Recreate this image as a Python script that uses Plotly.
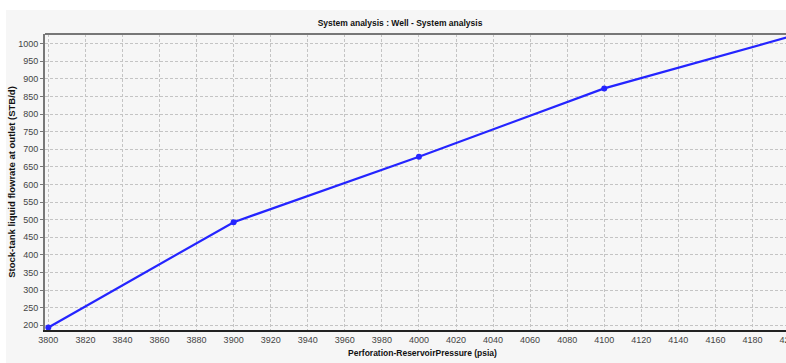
import plotly.graph_objects as go

pressure = [3800, 3900, 4000, 4100, 4200]
flowrate = [194, 493, 679, 873, 1020]

title_text = "System analysis : Well - System analysis"
x_title = "Perforation-ReservoirPressure (psia)"
y_title = "Stock-tank liquid flowrate at outlet (STB/d)"

x_ticks = list(range(3800, 4201, 20))
y_ticks = list(range(200, 1001, 50))

FONT = "Liberation Sans Narrow, Arial Narrow, sans-serif"

fig = go.Figure()
fig.add_trace(go.Scatter(
    x=pressure, y=flowrate, mode="lines+markers",
    line=dict(color="#2424ff", width=2.2),
    marker=dict(color="#2424ff", size=6),
    cliponaxis=False,
))

fig.update_layout(
    width=800, height=363,
    margin=dict(l=45, r=0, t=34, b=33),
    paper_bgcolor="white",
    plot_bgcolor="#fcfcfc",
    showlegend=False,
    title=dict(text="<b>" + title_text + "</b>", x=0.5, xanchor="center",
               y=1 - 23 / 363, yanchor="middle",
               font=dict(family=FONT, size=8.5, color="#111")),
    font=dict(family=FONT, size=9, color="#333"),
    shapes=[
        dict(type="rect", xref="paper", yref="paper", layer="below",
             x0=-39 / 755, x1=1.0, y0=-33 / 296, y1=320 / 296,
             fillcolor="#f6f6f6", line=dict(width=0)),
        dict(type="line", xref="paper", yref="paper", x0=0, x1=1, y0=1, y1=1,
             line=dict(color="#777", width=2)),
    ],
    xaxis=dict(
        range=[3798.2, 3798.2 + 755 / 1.853],
        tickvals=x_ticks, ticktext=[str(v) for v in x_ticks],
        showgrid=True, gridcolor="#c4c4c4", griddash="3px,2px", gridwidth=1,
        showline=True, linecolor="#222", linewidth=2,
        ticks="", zeroline=False,
        tickfont=dict(family=FONT, size=9, color="#444"),
        title=dict(text="<b>" + x_title + "</b>", standoff=6,
                   font=dict(family=FONT, size=8.5, color="#111")),
    ),
    yaxis=dict(
        range=[186.7, 1027.5],
        tickvals=y_ticks, ticktext=[str(v) for v in y_ticks],
        showgrid=True, gridcolor="#c4c4c4", griddash="3px,2px", gridwidth=1,
        showline=True, linecolor="#777", linewidth=2,
        ticks="outside", ticklen=3, tickcolor="#777",
        zeroline=False,
        tickfont=dict(family=FONT, size=9, color="#444"),
        title=dict(text="<b>" + y_title + "</b>", standoff=1,
                   font=dict(family=FONT, size=9.5, color="#111")),
    ),
)

fig.write_html("out.html", post_script=(
    "document.body.style.margin='0';"
    "document.body.style.overflow='hidden';"
    "document.documentElement.style.overflow='hidden';"
))
